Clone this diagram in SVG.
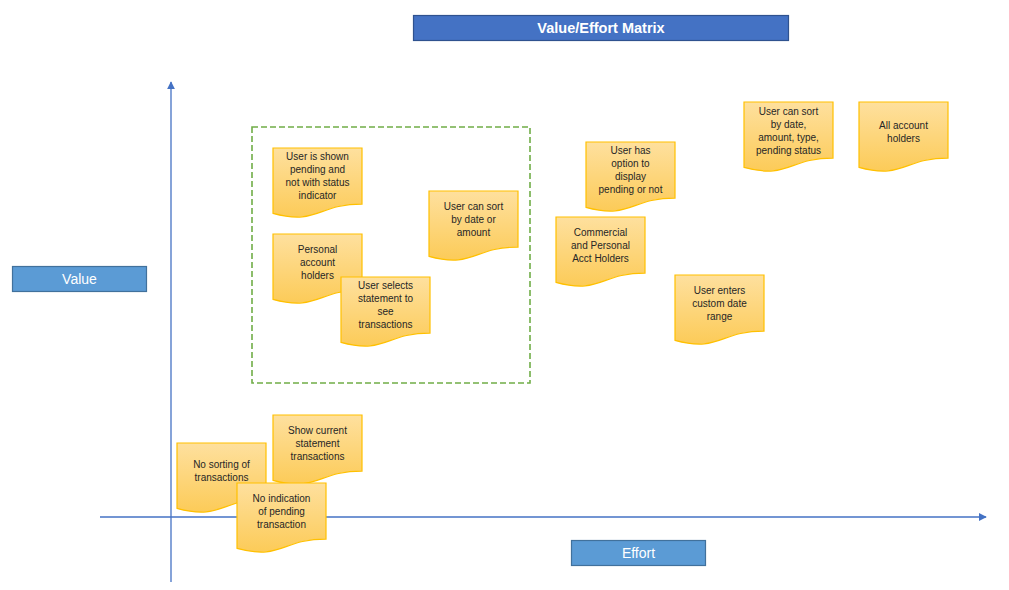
<svg xmlns="http://www.w3.org/2000/svg" width="1009" height="590" viewBox="0 0 1009 590">
<defs>
<linearGradient id="g" x1="0" y1="0" x2="0" y2="1">
<stop offset="0" stop-color="#FEE09E"/>
<stop offset="1" stop-color="#FCCB58"/>
</linearGradient>
<path id="doc" d="M0 0 H89 V56.1 C44.5 56.1 44.5 77.5 0 65.4 Z"/>
<marker id="arr" viewBox="0 0 10 10" refX="9" refY="5" markerWidth="8" markerHeight="8" markerUnits="userSpaceOnUse" orient="auto">
<path d="M0 0 L10 5 L0 10 Z" fill="#4472C4"/>
</marker>
</defs>
<style>
.note{fill:url(#g);stroke:#FFC000;stroke-width:1.2}
.nt{font-family:"Liberation Sans",Arial,sans-serif;font-size:10px;fill:#262626;text-anchor:middle}
.lbl{fill:#5B9BD5;stroke:#41719C;stroke-width:1.2}
.lt{font-family:"Liberation Sans",Arial,sans-serif;font-size:14px;fill:#fff;text-anchor:middle}
.axis{stroke:#4472C4;stroke-width:1.3;fill:none}
</style>
<rect width="1009" height="590" fill="#fff"/>
<g id="connectors">
<line class="axis" x1="171" y1="582" x2="171" y2="82" marker-end="url(#arr)"/>
<line class="axis" x1="100" y1="517" x2="986" y2="517" marker-end="url(#arr)"/>
</g>
<g id="title">
<rect x="413.5" y="15.5" width="375" height="25" fill="#4472C4" stroke="#2F528F" stroke-width="1.2"/>
<text x="601" y="33" class="lt" style="font-weight:bold;font-size:14.5px">Value/Effort Matrix</text>
</g>
<g id="value-label">
<rect class="lbl" x="12.5" y="266.5" width="134" height="25"/>
<text class="lt" x="79.5" y="284">Value</text>
</g>
<g id="effort-label">
<rect class="lbl" x="571.5" y="540.5" width="134" height="25"/>
<text class="lt" x="638.5" y="558">Effort</text>
</g>
<g id="focus-box">
<rect x="252" y="127" width="278" height="256" fill="none" stroke="#70AD47" stroke-width="1.6" stroke-dasharray="6 3"/>
</g>
<g id="n1"><use href="#doc" class="note" x="273" y="148"/>
<text class="nt"><tspan x="317.5" y="160">User is shown</tspan><tspan x="317.5" y="173">pending and</tspan><tspan x="317.5" y="186">not with status</tspan><tspan x="317.5" y="199">indicator</tspan></text></g>
<g id="n2"><use href="#doc" class="note" x="273" y="234"/>
<text class="nt"><tspan x="317.5" y="252.5">Personal</tspan><tspan x="317.5" y="265.5">account</tspan><tspan x="317.5" y="278.5">holders</tspan></text></g>
<g id="n3"><use href="#doc" class="note" x="341" y="277"/>
<text class="nt"><tspan x="385.5" y="289">User selects</tspan><tspan x="385.5" y="302">statement to</tspan><tspan x="385.5" y="315">see</tspan><tspan x="385.5" y="328">transactions</tspan></text></g>
<g id="n4"><use href="#doc" class="note" x="429" y="191"/>
<text class="nt"><tspan x="473.5" y="210">User can sort</tspan><tspan x="473.5" y="223">by date or</tspan><tspan x="473.5" y="236">amount</tspan></text></g>
<g id="n5"><use href="#doc" class="note" x="586" y="142"/>
<text class="nt"><tspan x="630.5" y="154">User has</tspan><tspan x="630.5" y="167">option to</tspan><tspan x="630.5" y="180">display</tspan><tspan x="630.5" y="193">pending or not</tspan></text></g>
<g id="n6"><use href="#doc" class="note" x="556" y="217"/>
<text class="nt"><tspan x="600.5" y="235.5">Commercial</tspan><tspan x="600.5" y="248.5">and Personal</tspan><tspan x="600.5" y="261.5">Acct Holders</tspan></text></g>
<g id="n7"><use href="#doc" class="note" x="675" y="275"/>
<text class="nt"><tspan x="719.5" y="293.5">User enters</tspan><tspan x="719.5" y="306.5">custom date</tspan><tspan x="719.5" y="319.5">range</tspan></text></g>
<g id="n8"><use href="#doc" class="note" x="744" y="102"/>
<text class="nt"><tspan x="788.5" y="115">User can sort</tspan><tspan x="788.5" y="128">by date,</tspan><tspan x="788.5" y="141">amount, type,</tspan><tspan x="788.5" y="154">pending status</tspan></text></g>
<g id="n9"><use href="#doc" class="note" x="859" y="102"/>
<text class="nt"><tspan x="903.5" y="128.5">All account</tspan><tspan x="903.5" y="141.5">holders</tspan></text></g>
<g id="n11"><use href="#doc" class="note" x="177" y="443"/>
<text class="nt"><tspan x="221.5" y="468">No sorting of</tspan><tspan x="221.5" y="481">transactions</tspan></text></g>
<g id="n10"><use href="#doc" class="note" x="273" y="415"/>
<text class="nt"><tspan x="317.5" y="434">Show current</tspan><tspan x="317.5" y="447">statement</tspan><tspan x="317.5" y="460">transactions</tspan></text></g>
<g id="n12"><use href="#doc" class="note" x="237" y="483"/>
<text class="nt"><tspan x="281.5" y="502">No indication</tspan><tspan x="281.5" y="515">of pending</tspan><tspan x="281.5" y="528">transaction</tspan></text></g>
</svg>
